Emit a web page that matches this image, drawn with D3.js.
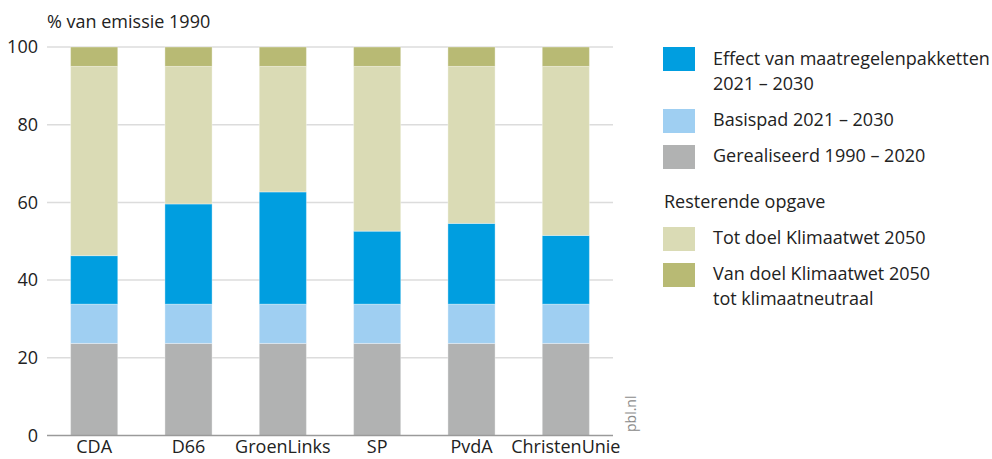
<!DOCTYPE html>
<html><head><meta charset="utf-8">
<script src="https://cdn.jsdelivr.net/npm/d3@7"></script>
<style>body{margin:0;background:#fff}svg{display:block;font-family:"Open Sans",sans-serif}</style>
</head><body><svg id="c" width="992" height="459"></svg>
<script>
const categories = ["CDA","D66","GroenLinks","SP","PvdA","ChristenUnie"];
const gerealiseerd = [23.7,23.7,23.7,23.7,23.7,23.7];
const basispad = [10.1,10.1,10.1,10.1,10.1,10.1];
const effect = [12.5,25.8,28.9,18.8,20.8,17.7];
const totDoel = [48.7,35.4,32.3,42.4,40.4,43.5];
const vanDoel = [5,5,5,5,5,5];
const yTicks = [0,20,40,60,80,100];
const seriesNames = ["Gerealiseerd 1990 – 2020","Basispad 2021 – 2030","Effect van maatregelenpakketten 2021 – 2030","Tot doel Klimaatwet 2050","Van doel Klimaatwet 2050 tot klimaatneutraal"];
const seriesData = [gerealiseerd,basispad,effect,totDoel,vanDoel];
const colors = ["#b1b2b2","#9fcff2","#009ee0","#dadbb5","#b8ba74"];

const svg = d3.select("#c");
const x = d3.scaleBand().domain(categories).range([47,613]).paddingInner(0.5).paddingOuter(0.25);
const y = d3.scaleLinear().domain([0,100]).range([435.5,47]);

// gridlines
svg.append("g").selectAll("line").data(yTicks.filter(d=>d>0)).join("line")
  .attr("x1",47).attr("x2",613).attr("y1",d=>y(d)).attr("y2",d=>y(d))
  .attr("stroke","#dcdcdc").attr("stroke-width",1.5);

// stacks
const table = categories.map((c,i)=>{const o={cat:c};seriesData.forEach((s,k)=>o["s"+k]=s[i]);return o;});
const stack = d3.stack().keys(seriesData.map((s,k)=>"s"+k))(table);
svg.append("g").selectAll("g").data(stack).join("g").attr("fill",(d,i)=>colors[i])
  .selectAll("rect").data(d=>d).join("rect")
  .attr("x",d=>x(d.data.cat)).attr("width",x.bandwidth())
  .attr("y",d=>y(d[1])).attr("height",d=>y(d[0])-y(d[1]))
  .attr("stroke","rgba(255,255,255,0.35)").attr("stroke-width",1);

// baseline
svg.append("line").attr("x1",47).attr("x2",613).attr("y1",y(0)).attr("y2",y(0)).attr("stroke","#9a9a9a").attr("stroke-width",1.5);

// y axis labels
const yAxis = d3.axisLeft(y).tickValues(yTicks).tickSize(0).tickPadding(9);
const ga = svg.append("g").attr("transform","translate(47,0)").call(yAxis);
ga.select(".domain").remove();
ga.selectAll("text").attr("font-size",18).attr("fill","#222").attr("font-family","'Open Sans',sans-serif");

// x axis labels
const xAxis = d3.axisBottom(x).tickSize(0);
const gx = svg.append("g").attr("transform","translate(0,"+y(0)+")").call(xAxis);
gx.select(".domain").remove();
gx.selectAll("text").attr("y",17.5).attr("dy",0).attr("font-size",18).attr("fill","#222").attr("font-family","'Open Sans',sans-serif");

// title
svg.append("text").attr("x",47).attr("y",28).attr("font-size",18).attr("fill","#222").text("% van emissie 1990");

// pbl.nl
svg.append("text").attr("transform","translate(636,432) rotate(-90)").attr("font-size",14).attr("fill","#8a8a8a").text("pbl.nl");

// legend
const leg = [
 {c:colors[2], sy:47, lines:["Effect van maatregelenpakketten","2021 – 2030"], by:65},
 {c:colors[1], sy:109, lines:["Basispad 2021 – 2030"], by:126},
 {c:colors[0], sy:145, lines:["Gerealiseerd 1990 – 2020"], by:162},
 {c:colors[3], sy:227, lines:["Tot doel Klimaatwet 2050"], by:244},
 {c:colors[4], sy:263, lines:["Van doel Klimaatwet 2050","tot klimaatneutraal"], by:280}
];
const lg = svg.append("g");
leg.forEach(l=>{
  lg.append("rect").attr("x",663).attr("y",l.sy).attr("width",32).attr("height",24).attr("fill",l.c);
  l.lines.forEach((t,i)=>lg.append("text").attr("x",713).attr("y",l.by+i*25).attr("font-size",18).attr("fill","#222").text(t));
});
svg.append("text").attr("x",664).attr("y",208).attr("font-size",18).attr("fill","#222").text("Resterende opgave");
</script></body></html>
